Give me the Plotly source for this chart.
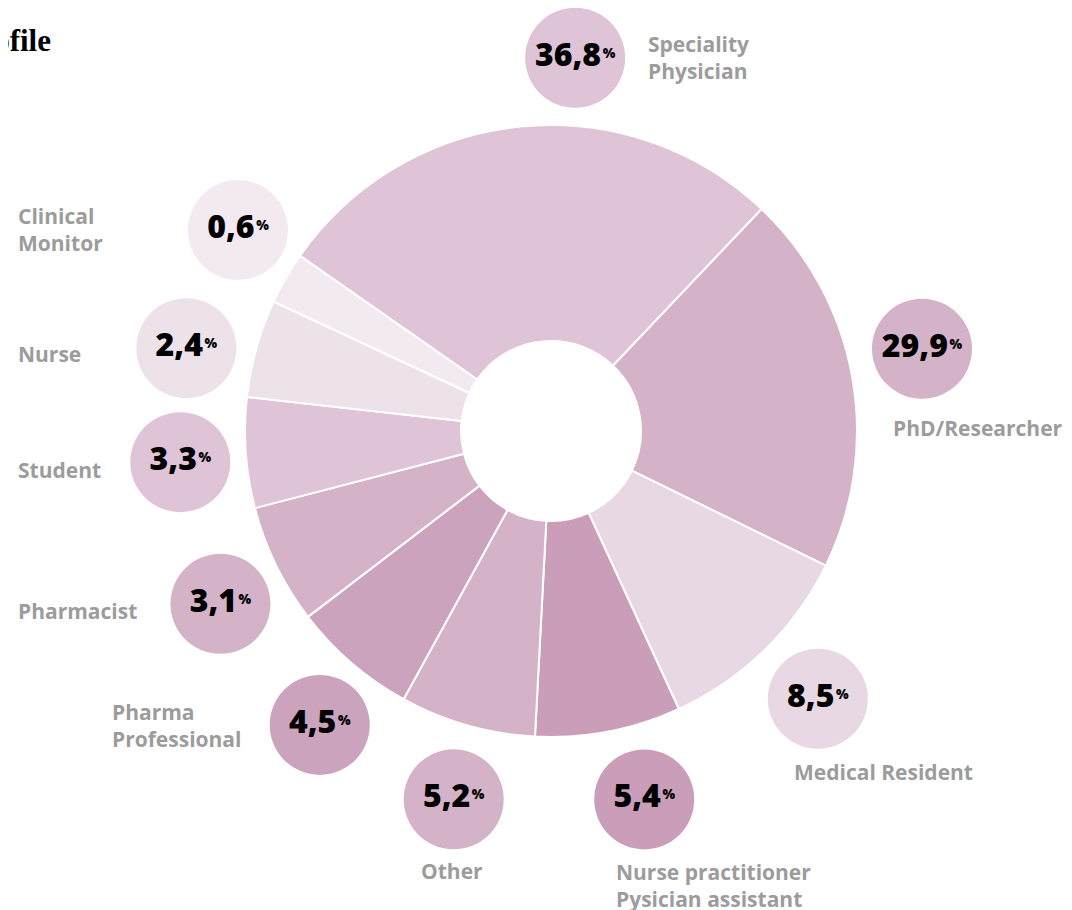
import math
import plotly.graph_objects as go

# ---------------- data ----------------
categories = ["Speciality<br>Physician", "PhD/Researcher", "Medical Resident",
              "Nurse practitioner<br>Pysician assistant", "Other",
              "Pharma<br>Professional", "Pharmacist", "Student", "Nurse",
              "Clinical<br>Monitor"]
shares = [36.8, 29.9, 8.5, 5.4, 5.2, 4.5, 3.1, 3.3, 2.4, 0.6]
# arc sizes as drawn in the picture (degrees; the donut is not proportional)
arc_degrees = [98.6, 72.6, 39.2, 27.7, 25.8, 23.8, 22.8, 21.0, 18.6, 9.9]
colors = ["#dfc3d7", "#d4b3c9", "#e8d8e3", "#ca9db9", "#d4b2c8",
          "#cca3bd", "#d4b3c9", "#dfc3d7", "#ede1ea", "#f2eaf0"]

# ---------------- layout constants ----------------
W, H = 1072, 910
OFF = 8                      # page body margin: screen = figure + OFF
CX, CY, R = 551, 431, 306    # screen pixels
HOLE = 0.294
START = 304.9
bubble_angle_offset = [9.5, -2.3, -0.6, -3.35, -1.1, -2.5, -1.6, -0.7, -2.9, 2.75]
bubble_radius = [374, 380, 378, 380, 381, 374, 373, 372, 374, 372]
# label anchor positions (screen pixels) and alignment
label_pos = [(646, 57, "left"), (891, 428, "left"), (792, 772, "left"),
             (614, 885, "left"), (452, 871, "center"), (110, 725, "left"),
             (16, 611, "left"), (16, 470, "left"), (16, 354, "left"),
             (16, 229, "left")]

GRAY = "#9c9c9c"
LABEL_FONT = "Open Sans"
NUM_FONT = "Open Sans"

fig = go.Figure()

fx = lambda v: (v - OFF) / W
fy = lambda v: 1 - (v - OFF) / H

fig.add_trace(go.Pie(
    values=arc_degrees, labels=[c.replace("<br>", " ") for c in categories],
    sort=False, direction="clockwise", rotation=START - 360,
    hole=HOLE, textinfo="none", hoverinfo="label",
    marker=dict(colors=colors, line=dict(color="white", width=2)),
    domain=dict(x=[fx(CX - R), fx(CX + R)], y=[fy(CY + R), fy(CY - R)]),
    showlegend=False,
))

# bubble positions from slice mid-angles
bx, by = [], []
cum = START
for i, a in enumerate(arc_degrees):
    mid = cum + a / 2 + bubble_angle_offset[i]
    cum += a
    t = math.radians(mid)
    bx.append(CX + bubble_radius[i] * math.sin(t))
    by.append(CY - bubble_radius[i] * math.cos(t))

texts = ["%s<span style='font-size:6px'> </span>"
         "<span style='font-size:19px'><sup>%%</sup></span>" %
         (f"{v:.1f}".replace(".", ",")) for v in shares]

fig.add_trace(go.Scatter(
    x=bx, y=by, mode="markers+text", text=texts,
    textposition="middle center",
    textfont=dict(family=NUM_FONT, size=32, color="black", weight=800),
    marker=dict(size=100, color=colors, line=dict(width=0)),
    hoverinfo="skip", showlegend=False, cliponaxis=False,
))

annotations = []
for (lx, ly, anc), name in zip(label_pos, categories):
    annotations.append(dict(
        x=lx, y=ly, xref="x", yref="y", text="<b>%s</b>" % name,
        showarrow=False, xanchor=anc, yanchor="middle", align=anc,
        font=dict(family=LABEL_FONT, size=21, color=GRAY),
    ))

annotations.append(dict(
    x=53, y=40, xref="x", yref="y", text="<b>Profile</b>",
    showarrow=False, xanchor="right", yanchor="middle",
    font=dict(family="Liberation Serif", size=31, color="black"),
))

fig.update_layout(
    width=W, height=H,
    margin=dict(l=0, r=0, t=0, b=0),
    paper_bgcolor="white", plot_bgcolor="white",
    xaxis=dict(range=[OFF, W + OFF], visible=False, domain=[0, 1], fixedrange=True),
    yaxis=dict(range=[H + OFF, OFF], visible=False, domain=[0, 1], fixedrange=True),
    annotations=annotations,
)

fig.write_html("out.html")
